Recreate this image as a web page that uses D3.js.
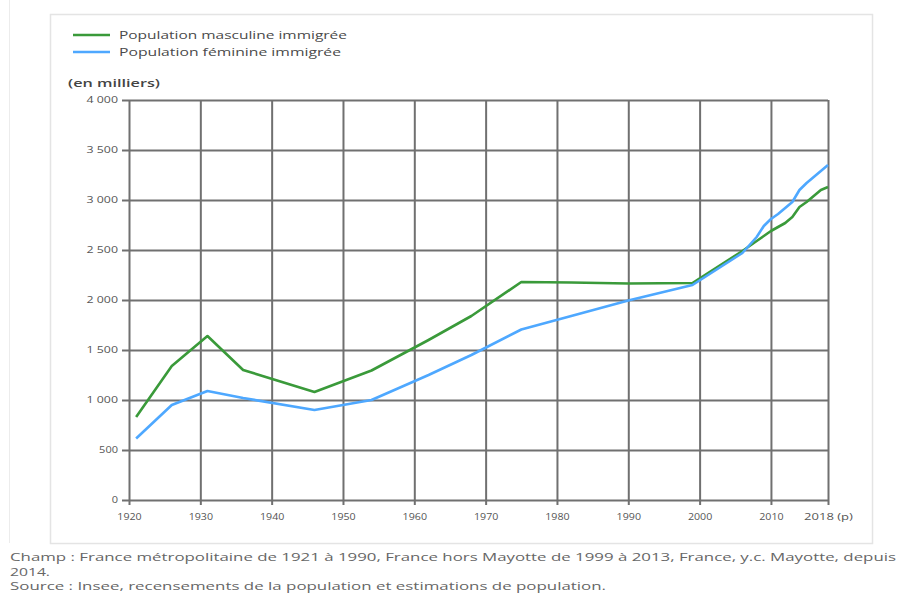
<!DOCTYPE html>
<html>
<head>
<meta charset="utf-8">
<script src="https://cdnjs.cloudflare.com/ajax/libs/d3/7.8.5/d3.min.js"></script>
<style>
    body { margin: 0; background: #fff; }
    svg text { font-family: "Open Sans", sans-serif; }
</style>
</head>
<body>
<div id="chart"></div>
<script>
// years of the census / estimates
const years = [1921, 1926, 1931, 1936, 1946, 1954, 1962, 1968, 1975, 1982, 1990, 1999,
    2006, 2007, 2008, 2009, 2010, 2011, 2012, 2013, 2014, 2015, 2016, 2017, 2018];
// thousands
const male = [830, 1340, 1640, 1300, 1080, 1295, 1600, 1840, 2180, 2175, 2165, 2170,
    2490, 2540, 2590, 2640, 2690, 2730, 2770, 2830, 2930, 2980, 3040, 3100, 3130];
const female = [615, 950, 1090, 1020, 900, 1000, 1250, 1450, 1705, 1840, 1995, 2150,
    2470, 2550, 2630, 2740, 2810, 2860, 2920, 2980, 3100, 3170, 3230, 3290, 3350];

const xTicks = [1920, 1930, 1940, 1950, 1960, 1970, 1980, 1990, 2000, 2010, 2018];
const xTickLabels = ["1920", "1930", "1940", "1950", "1960", "1970", "1980", "1990", "2000", "2010", "2018 (p)"];
const yTicks = [0, 500, 1000, 1500, 2000, 2500, 3000, 3500, 4000];
const seriesNames = ["Population masculine immigrée", "Population féminine immigrée"];
const notes = [
    "Champ : France métropolitaine de 1921 à 1990, France hors Mayotte de 1999 à 2013, France, y.c. Mayotte, depuis",
    "2014.",
    "Source : Insee, recensements de la population et estimations de population."
];
const noteWidths = [886, 40, 596];

const colors = ["#3a9a3a", "#4ea8ff"];
const textColor = "#555";
const gridColor = "#707070";

let width = 901, height = 593;
let plot = {left: 129, right: 828, top: 100, bottom: 500};

let svg = d3.select("#chart").append("svg")
    .attr("width", width)
    .attr("height", height);

// outer frame
svg.append("rect")
    .attr("x", 50.5).attr("y", 14.5)
    .attr("width", 822).attr("height", 529)
    .attr("fill", "none")
    .attr("stroke", "#e4e4e4")
    .attr("stroke-width", 1.5);
svg.append("line")
    .attr("x1", 9.5).attr("x2", 9.5)
    .attr("y1", 0).attr("y2", 543)
    .attr("stroke", "#ececec");

let x = d3.scaleLinear().domain([1920, 2018]).range([plot.left, plot.right]);
let y = d3.scaleLinear().domain([0, 4000]).range([plot.bottom, plot.top]);

const fmt = d => d3.format(",")(d).replace(",", " ");

// horizontal grid + y labels
let yAxis = d3.axisLeft(y)
    .tickValues(yTicks)
    .tickSize(-(plot.right - plot.left))
    .tickPadding(4)
    .tickFormat(fmt);

let gy = svg.append("g")
    .attr("transform", "translate(" + plot.left + ",0)")
    .call(yAxis);
gy.select(".domain").remove();
gy.selectAll(".tick line")
    .attr("x1", -7)
    .attr("stroke", gridColor)
    .attr("stroke-width", 2);
gy.selectAll(".tick text")
    .attr("x", -11)
    .attr("fill", textColor)
    .attr("font-size", 9)
    .attr("textLength", d => fmt(d).length * 6.3)
    .attr("lengthAdjust", "spacingAndGlyphs");

// vertical grid + x labels
let xAxis = d3.axisBottom(x)
    .tickValues(xTicks)
    .tickSize(-(plot.bottom - plot.top))
    .tickFormat((d, i) => xTickLabels[i]);

let gx = svg.append("g")
    .attr("transform", "translate(0," + plot.bottom + ")")
    .call(xAxis);
gx.select(".domain").remove();
gx.selectAll(".tick line")
    .attr("y2", 5)
    .attr("y1", -(plot.bottom - plot.top))
    .attr("stroke", gridColor)
    .attr("stroke-width", 2);
gx.selectAll(".tick text")
    .attr("y", 14)
    .attr("dy", "0.71em")
    .attr("fill", textColor)
    .attr("font-size", 9)
    .attr("textLength", (d, i) => xTickLabels[i].length * 6.1)
    .attr("lengthAdjust", "spacingAndGlyphs");

// axis title
svg.append("text")
    .attr("x", 68).attr("y", 87)
    .attr("font-size", 11)
    .attr("font-weight", 600)
    .attr("fill", "#444")
    .attr("textLength", 92)
    .attr("lengthAdjust", "spacingAndGlyphs")
    .text("(en milliers)");

// lines
let line = d3.line()
    .x((d, i) => x(years[i]))
    .y(d => y(d));

[male, female].forEach(function(series, k) {
    svg.append("path")
        .datum(series)
        .attr("fill", "none")
        .attr("stroke", colors[k])
        .attr("stroke-width", 2.6)
        .attr("stroke-linejoin", "round")
        .attr("d", line);
});

// legend
let legend = svg.append("g");
seriesNames.forEach(function(name, k) {
    let ly = 35 + k * 17;
    legend.append("line")
        .attr("x1", 73).attr("x2", 110)
        .attr("y1", ly).attr("y2", ly)
        .attr("stroke", colors[k])
        .attr("stroke-width", 2.6);
    legend.append("text")
        .attr("x", 119).attr("y", ly + 4)
        .attr("font-size", 11)
        .attr("fill", "#4a4a4a")
        .attr("textLength", k === 0 ? 228 : 222)
        .attr("lengthAdjust", "spacingAndGlyphs")
        .text(name);
});

// notes under the chart
notes.forEach(function(t, i) {
    svg.append("text")
        .attr("x", 10)
        .attr("y", 561 + i * 14.5)
        .attr("font-size", 11.5)
        .attr("fill", "#666")
        .attr("textLength", noteWidths[i])
        .attr("lengthAdjust", "spacingAndGlyphs")
        .text(t);
});
</script>
</body>
</html>
